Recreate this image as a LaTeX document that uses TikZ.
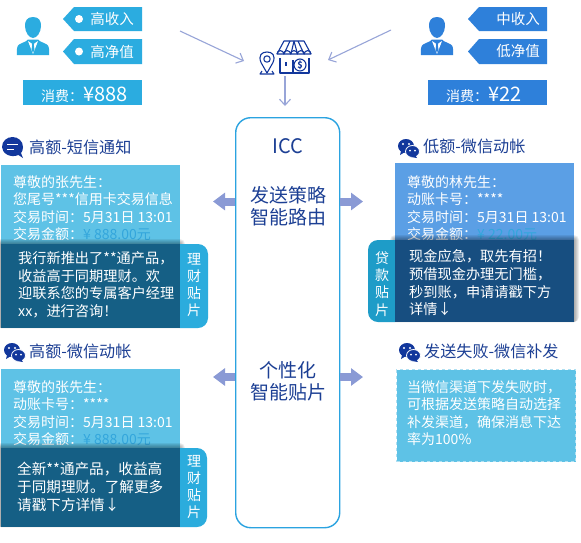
\documentclass[tikz,border=0pt]{standalone}
\usepackage{fontspec}
\setmainfont{Noto Sans CJK SC}
\usetikzlibrary{arrows.meta,shapes.arrows}
\definecolor{tagL}{HTML}{2BACE0}
\definecolor{tagR}{HTML}{2E80DA}
\definecolor{navy}{HTML}{1C3F94}
\definecolor{iconblue}{HTML}{12379C}
\definecolor{cardL}{HTML}{5EC2E6}
\definecolor{cardR}{HTML}{5B9FE5}
\definecolor{darkL}{HTML}{155F85}
\definecolor{darkR}{HTML}{174E80}
\definecolor{tabL}{HTML}{2BACDD}
\definecolor{tabR}{HTML}{1E9CC8}
\definecolor{arrowc}{HTML}{8A9AD5}
\definecolor{thinc}{HTML}{98A5D8}
\definecolor{iccb}{HTML}{2BA3E0}
\definecolor{amt}{HTML}{33A6DC}
\newcommand\fsz[2]{\fontsize{#1}{#2}\selectfont}
\newcommand\xperson[3]{\begin{scope}[shift={(#1,#2)}]
 \fill[#3] (-16,38) .. controls (-16.5,32) and (-16,29) .. (-14,27.5) .. controls (-11,25.5) and (-7,25) .. (-5,22.5) -- (5,22.5) .. controls (7,25) and (11,25.5) .. (14,27.5) .. controls (16,29) and (16.5,32) .. (16,38) -- cycle;
 \fill[#3] (0,0) .. controls (6,0) and (8.2,4) .. (8,9) .. controls (8,15) and (4,21) .. (0,21) .. controls (-4,21) and (-8,15) .. (-8,9) .. controls (-8.2,4) and (-6,0) .. (0,0) -- cycle;
 \fill[white] (-5,24) -- (0,37) -- (5,24) -- (2,26) -- (-2,26) -- cycle;
 \fill[#3] (-1.5,26) -- (1.5,26) -- (0.8,28) -- (1.5,33) -- (0,35.5) -- (-1.5,33) -- (-0.8,28) -- cycle;
\end{scope}}
\newcommand\xwechat[2]{\begin{scope}[shift={(#1,#2)}]
 \fill[iconblue] (8,7) ellipse [x radius=8,y radius=7];
 \fill[iconblue] (3,12) -- (2,16) -- (7,13) -- cycle;
 \fill[white] (5,5) circle (1.2) (11,5) circle (1.2);
 \fill[iconblue,draw=white,line width=.8] (14.5,12.5) ellipse [x radius=7,y radius=6];
 \fill[iconblue] (17,16) -- (19,19) -- (13,18) -- cycle;
 \fill[white] (12,11.5) circle (1) (17,11.5) circle (1);
\end{scope}}
\newcommand\xglow[4]{\foreach \d in {1,...,5}{\fill[black,opacity=.07,rounded corners=\d] ({#1-\d},{#2-\d}) rectangle ({#3+\d},{#4});}}
\tikzset{
 x=1pt,y=-1pt,
 thin arrow/.style={draw=thinc,line width=1.1,-{Straight Barb[length=6pt,width=11pt]}},
 block arrow/.style={draw=arrowc,line width=8,-{Triangle[length=12pt,width=17pt]}},
 taglabel/.style={inner sep=0,text=white,font=\fsz{14.5}{17}},
 spendbox/.style={inner sep=0,minimum width=119,minimum height=25,anchor=north west},
 title/.style={inner sep=0,anchor=west,text=navy,font=\fsz{16.1}{20}},
 card/.style={inner sep=0,minimum width=179,anchor=north west},
 cardtext/.style={inner sep=0,anchor=north west,align=left,text=white,font=\fsz{14}{17.6}},
 darktext/.style={inner sep=0,anchor=north west,align=left,text=white,font=\fsz{14.2}{17.9}},
 tabtext/.style={inner sep=0,align=center,text=white,font=\fsz{14}{17.3}},
 icctext/.style={inner sep=0,align=center,text=navy,font=\fsz{19}{22.5}},
}
\begin{document}
\begin{tikzpicture}
\useasboundingbox (0,0) rectangle (581,542);
\fill[white] (0,0) rectangle (581,542);

% ---- customers
\xperson{33}{17}{tagL}
\xperson{437}{17}{tagR}
\fill[tagL] (63,19) -- (74,7) -- (142,7) -- (142,31) -- (74,31) -- cycle;
\fill[tagL] (63,51.5) -- (74,39) -- (142,39) -- (142,64) -- (74,64) -- cycle;
\fill[white] (79,19) circle (4) (79,51.5) circle (4);
\node[taglabel] (t1) at (112,19) {高收入};
\node[taglabel] (t2) at (112,51.5) {高净值};
\node[spendbox,fill=tagL] (sL) at (23,80) {};
\node[inner sep=0,anchor=west,text=white,font=\fsz{14}{17}] (sLt) at (41,94.5) {消费：{\fsz{20}{20}¥888}};
\fill[tagR] (468,19) -- (479,7) -- (547,7) -- (547,31) -- (479,31) -- cycle;
\fill[tagR] (468,51.5) -- (479,39) -- (547,39) -- (547,64) -- (479,64) -- cycle;
\node[taglabel] (t3) at (518,19) {中收入};
\node[taglabel] (t4) at (518,51.5) {低净值};
\node[spendbox,fill=tagR] (sR) at (428,80) {};
\node[inner sep=0,anchor=west,text=white,font=\fsz{14}{17}] (sRt) at (446,94.5) {消费：{\fsz{20}{20}¥22}};

% ---- shop icon
\node[inner sep=0,minimum width=52,minimum height=38] (shop) at (285,56) {};
\begin{scope}[draw=iconblue,line width=1.1,line join=round]
 \draw (267,59) circle (3.2);
 \draw (267,73) -- (261,62.5) .. controls (258,55) and (262,52) .. (267,52) .. controls (272,52) and (276,55) .. (273,62.5) -- cycle;
 \draw (262,71) -- (260,74) -- (274,74) -- (272,71);
 \draw (284,41) -- (304,41) -- (311,54) -- (277,54) -- cycle;
 \draw (277,54) arc[start angle=180,end angle=360,radius=3.4] arc[start angle=180,end angle=360,radius=3.4] arc[start angle=180,end angle=360,radius=3.4] arc[start angle=180,end angle=360,radius=3.4] arc[start angle=180,end angle=360,radius=3.4];
 \draw (290,41) -- (284,54) (298,41) -- (304,54) (294,41) -- (291,54) (294,41) -- (297.5,54);
 \draw (280,58) -- (280,73) -- (309,73) -- (309,58);
 \draw (293,60) -- (293,73);
 \draw (286,62) -- (286,66);
 \draw (300,65) circle (6);
\end{scope}
\node[inner sep=0,text=iconblue,font=\fsz{9}{9}\bfseries] (dollar) at (300,65) {\$};

% ---- ICC
\node[draw=iccb,line width=1.4,rounded corners=15,fill=white,inner sep=0,minimum width=104,minimum height=410,anchor=north west] (icc) at (235,117) {};
\node[inner sep=0,text=navy,font=\fsz{20}{24}] (iccl) at (288,146) {ICC};
\node[icctext] (r1) at (288,206) {发送策略\\智能路由};
\node[icctext] (r2) at (288,381.5) {个性化\\智能贴片};

% ---- connectors
\coordinate (fromL) at (180,31);
\coordinate (toL) at (244,61);
\coordinate (fromR) at (391,30);
\coordinate (toR) at (328,60);
\coordinate (fromS) at (285,76);
\coordinate (toS) at (285,106);
\draw[thin arrow] (fromL) -- (toL);
\draw[thin arrow] (fromR) -- (toR);
\draw[thin arrow] (fromS) -- (toS);
\coordinate (a1) at (213,201.5);
\coordinate (a2) at (363,201.5);
\coordinate (a3) at (213,377);
\coordinate (a4) at (363,377);
\draw[block arrow] (icc.west |- a1) -- (a1);
\draw[block arrow] (icc.east |- a2) -- (a2);
\draw[block arrow] (icc.west |- a3) -- (a3);
\draw[block arrow] (icc.east |- a4) -- (a4);

% ---- card 1
\fill[iconblue] (23,158) -- (18.5,155) .. controls (10,158.5) and (2,153) .. (2,147) .. controls (2,141) and (7,137) .. (12.5,137) .. controls (18,137) and (23,141) .. (23,147) .. controls (23,150) and (22,152) .. (21,153) -- cycle;
\draw[white,line width=1.5] (7,144.5) -- (18,144.5) (7,149.5) -- (14,149.5);
\node[title] (h1) at (29,147) {高额-短信通知};
\node[card,fill=cardL,minimum height=84] (c1) at (1,165) {};
\node[cardtext] (c1t) at (13,175) {尊敬的张先生：\\您尾号***信用卡交易信息\\交易时间：5月31日 13:01\\交易金额：\textcolor{amt}{¥ 888.00元}};
\xglow{1}{244}{180}{328}
\fill[tabL,rounded corners=10] (170,244) -- (208,244) -- (208,328) -- (170,328) -- cycle;
\node[card,fill=darkL,minimum height=84] (d1) at (1,244) {};
\node[darktext] (d1t) at (18,251) {我行新推出了**通产品，\\收益高于同期理财。欢\\迎联系您的专属客户经理\\xx，进行咨询！};
\node[tabtext] (tb1) at (194,285) {理\\财\\贴\\片};

% ---- card 2
\xwechat{398}{139}
\node[title] (h2) at (423,146) {低额-微信动帐};
\node[card,fill=cardR,minimum height=84] (c2) at (395,163) {};
\node[cardtext] (c2t) at (407,175) {尊敬的林先生：\\动账卡号：****\\交易时间：5月31日 13:01\\交易金额：\textcolor{amt}{¥ 22.00元}};
\xglow{395}{240}{574}{322}
\fill[tabR,rounded corners=10] (368,240) -- (405,240) -- (405,322) -- (368,322) -- cycle;
\node[card,fill=darkR,minimum height=82] (d2) at (395,240) {};
\node[darktext] (d2t) at (409,249) {现金应急，取先有招！\\预借现金办理无门槛，\\秒到账，申请请戳下方\\详情↓};
\node[tabtext] (tb2) at (382,284) {贷\\款\\贴\\片};

% ---- card 3
\xwechat{4}{343}
\node[title] (h3) at (29,351.5) {高额-微信动帐};
\node[card,fill=cardL,minimum height=84] (c3) at (1,369) {};
\node[cardtext] (c3t) at (13,380) {尊敬的张先生：\\动账卡号：****\\交易时间：5月31日 13:01\\交易金额：\textcolor{amt}{¥ 888.00元}};
\xglow{1}{448}{180}{527}
\fill[tabL,rounded corners=10] (170,448) -- (207,448) -- (207,527) -- (170,527) -- cycle;
\node[card,fill=darkL,minimum height=79] (d3) at (1,448) {};
\node[darktext,font=\fsz{14.6}{17.9}] (d3t) at (17,462) {全新**通产品，收益高\\于同期理财。了解更多\\请戳下方详情↓};
\node[tabtext] (tb3) at (194,487) {理\\财\\贴\\片};

% ---- card 4
\xwechat{399}{343}
\node[title] (h4) at (424,351) {发送失败-微信补发};
\node[card,fill=cardL,draw=white!50!cardL,dashed,line width=1,minimum height=92] (c4) at (396,369) {};
\node[cardtext] (c4t) at (407,380) {当微信渠道下发失败时，\\可根据发送策略自动选择\\补发渠道，确保消息下达\\率为100\%};
\end{tikzpicture}
\end{document}
